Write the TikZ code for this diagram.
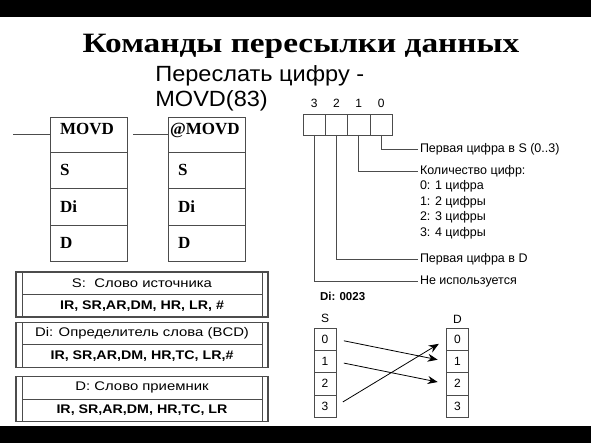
\documentclass[tikz,border=0pt]{standalone}
\usepackage{graphicx}
\usepackage{fontspec}
\setmainfont{Liberation Serif}
\setsansfont{Liberation Sans}
\usetikzlibrary{calc,fit,arrows.meta,positioning}
\definecolor{linegrey}{gray}{0.3}
\newcommand{\widen}[2][1.19]{\scalebox{#1}[1]{#2}}

\begin{document}
\begin{tikzpicture}[x=1pt,y=-1pt,node distance=0pt,outer sep=0pt]

\tikzset{ladcell/.style={draw=linegrey,line width=0.8pt,minimum height=36.5pt,text width=57pt,inner xsep=10pt,inner ysep=0pt,align=left,font=\fontsize{17}{17}\selectfont\bfseries},
ladhead/.style={ladcell,minimum height=35pt,text height=15pt,text depth=14pt,inner ysep=3pt},
bitbox/.style={draw=linegrey,line width=0.8pt,minimum width=22.3pt,minimum height=21pt,inner sep=0pt},
bitlabel/.style={font=\sffamily\fontsize{12}{12}\selectfont,inner sep=1pt},
infotext/.style={anchor=west,font=\sffamily\fontsize{12.5}{12.5}\selectfont,inner sep=2pt},
leader/.style={draw=linegrey,line width=0.8pt},
digcell/.style={draw=linegrey,line width=0.8pt,minimum width=22pt,minimum height=22.3pt,inner sep=0pt,font=\sffamily\fontsize{12}{12}\selectfont},
movearrow/.style={line width=0.8pt,-{Stealth[length=10pt,width=8pt]},shorten <=8pt,shorten >=9pt},
srow/.style={draw=linegrey,line width=0.8pt,minimum width=240pt,minimum height=22.5pt,inner sep=0pt,font=\sffamily\fontsize{12.5}{12.5}\selectfont},
srowbold/.style={srow,font=\sffamily\bfseries\fontsize{12.5}{12.5}\selectfont},
frame/.style={draw=linegrey,line width=1.2pt,inner xsep=6pt,inner ysep=0pt}}

\useasboundingbox (0,0) rectangle (591,443);

% Black bars
\fill (0,0) rectangle (591,17.5);
\fill (0,425.5) rectangle (591,443);

% Titles
\node[anchor=base,font=\bfseries\fontsize{28}{28}\selectfont] (title) at (301,53) {\widen{Команды пересылки данных}};
\node[anchor=base west,align=left,font=\sffamily\fontsize{22}{25}\selectfont] (sub) at (152,107) {\widen[1.07]{Переслать цифру -}\\\widen[1.07]{MOVD(83)}};

% Ladder boxes
\node[ladhead,anchor=north west] (m0) at (50,117) {MOVD};
\node[ladcell,below=of m0] (m1) {S};
\node[ladcell,below=of m1] (m2) {Di};
\node[ladcell,below=of m2] (m3) {D};
\node[ladhead,anchor=north west,inner xsep=2pt,text width=73pt] (a0) at (168,117) {@MOVD};
\node[ladcell,below=of a0] (a1) {S};
\node[ladcell,below=of a1] (a2) {Di};
\node[ladcell,below=of a2] (a3) {D};
\coordinate (railA) at (13,134);
\coordinate (railB) at (133,134);
\draw[leader] (railA) -- (railA -| m0.west);
\draw[leader] (railB) -- (railB -| a0.west);

% Digit boxes
\node[bitbox] (b3) at (314.2,124.5) {};
\node[bitbox,right=of b3] (b2) {};
\node[bitbox,right=of b2] (b1) {};
\node[bitbox,right=of b1] (b0) {};
\foreach \b in {0,1,2,3} \node[bitlabel,above=5pt of b\b] (n\b) {\b};

% Digit meanings
\node[infotext] (t0) at (418,149) {Первая цифра в S (0..3)};
\node[infotext] (t1) at (418,171) {Количество цифр:};
\foreach \n/\txt [count=\i] in {0/1 цифра, 1/2 цифры, 2/3 цифры, 3/4 цифры}
  \node[infotext] (q\n) at (418,{171+15.5*\i}) {\n: \txt};
\node[infotext] (t2) at (418,259) {Первая цифра в D};
\node[infotext] (t3) at (418,281) {Не используется};
\draw[leader] (b0.south) |- (t0.west);
\draw[leader] (b1.south) |- (t1.west);
\draw[leader] (b2.south) |- (t2.west);
\draw[leader] (b3.south) |- (t3.west);

% Operand boxes
\node[srow] (g1a) at (142,283.2) {\widen{S:\ \ Слово источника}};
\node[srowbold,below=of g1a] (g1b) {\widen[1.14]{IR, SR,AR,DM, HR, LR, \#}};
\node[frame,fit=(g1a)(g1b)] (g1) {};
\node[srow] (g2a) at (142,333.5) {\widen{Di: Определитель слова (BCD)}};
\node[srowbold,below=of g2a] (g2b) {\widen[1.14]{IR, SR,AR,DM, HR,TC, LR,\#}};
\node[frame,fit=(g2a)(g2b)] (g2) {};
\node[srow] (g3a) at (142,387.7) {\widen{D: Слово приемник}};
\node[srowbold,below=of g3a] (g3b) {\widen[1.14]{IR, SR,AR,DM, HR,TC, LR}};
\node[frame,fit=(g3a)(g3b)] (g3) {};

% Example Di: 0023
\node[anchor=west,font=\sffamily\bfseries\fontsize{11.5}{11.5}\selectfont,inner sep=1pt] (di) at (319,296) {Di: 0023};
\node[digcell] (s0) at (325,339.2) {0};
\node[digcell,below=of s0] (s1) {1};
\node[digcell,below=of s1] (s2) {2};
\node[digcell,below=of s2] (s3) {3};
\node[digcell] (d0) at (457.5,339.2) {0};
\node[digcell,below=of d0] (d1) {1};
\node[digcell,below=of d1] (d2) {2};
\node[digcell,below=of d2] (d3) {3};
\node[bitlabel,above=4pt of s0] (sl) {S};
\node[bitlabel,above=4pt of d0] (dl) {D};
\draw[movearrow] (s0.east) -- (d1.west);
\draw[movearrow] (s1.east) -- (d2.west);
\draw[movearrow] (s3.east) -- (d0.west);

\end{tikzpicture}
\end{document}
